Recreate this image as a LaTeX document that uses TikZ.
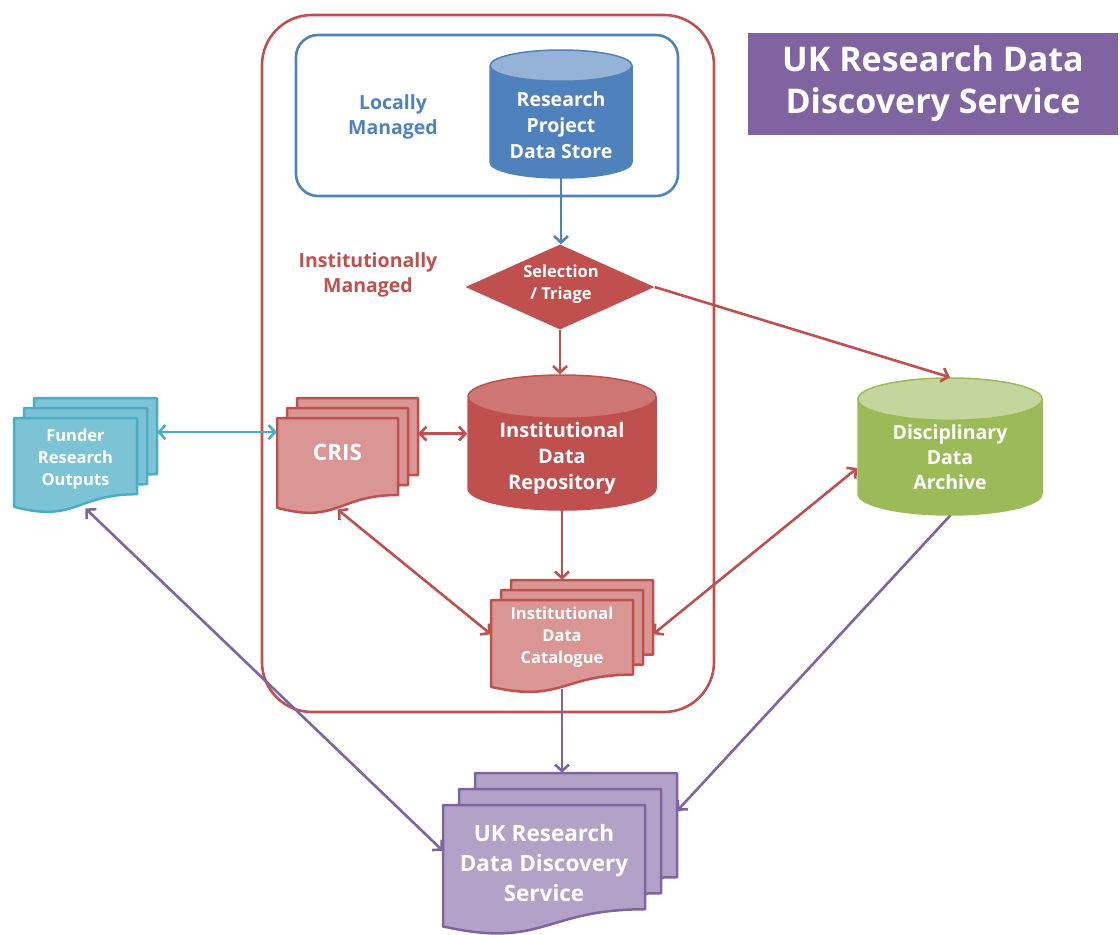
\documentclass[tikz,border=0pt]{standalone}
\usepackage{fontspec}
\setmainfont{Open Sans}
\usetikzlibrary{shapes.geometric,arrows.meta,calc}
\definecolor{ofred}{HTML}{C0504D}
\definecolor{ofblue}{HTML}{4F81BD}
\definecolor{ofgreen}{HTML}{9BBB59}
\definecolor{ofpurple}{HTML}{8064A2}
\definecolor{ofcyan}{HTML}{4BACC6}
\tikzset{
	sheet/.style={line width=2.5pt, line join=round},
	cyl/.style={cylinder, shape border rotate=90, draw, line width=1.5pt, cylinder uses custom fill, inner ysep=0pt, anchor=shape center},
	whitetext/.style={text=white, font=\bfseries, align=center, inner sep=0pt},
	link/.style={line width=2.6pt, -{Straight Barb[length=6.5pt,width=14pt]}},
	twolink/.style={line width=2.6pt, {Straight Barb[length=6.5pt,width=14pt]}-{Straight Barb[length=6.5pt,width=14pt]}},
	area/.style={draw, line width=2.6pt, fill=none, inner sep=0pt},
}
\newcommand{\docstack}[9]{
	\foreach \k in {2,1,0} {
		\draw[sheet, #7] ($(#2,#3)+(#6*\k,-#6*\k)$) -- ++(#4,0) -- ++(0,0.802*#5)
		.. controls +(-0.5*#4,0) and +(0.5*#4,0.174*#5) .. ++(-#4,0.132*#5) -- cycle;
	};
	\node[minimum width=#4+2*#6, minimum height=0.95*#5+2*#6, inner sep=0pt] (#1) at (#2+0.5*#4+#6, #3+0.475*#5-#6) {};
	\node[whitetext, #8] (#1-text) at (#2+0.5*#4, #3+0.4*#5) {#9};
}

\begin{document}
\begin{tikzpicture}[x=1pt,y=-1pt]
	\useasboundingbox (0,0) rectangle (1120,935);
	
	\node[fill=ofpurple, minimum width=370, minimum height=102, text=white, font=\bfseries\fontsize{34}{42}\selectfont, align=center] (title) at (933,84) {UK Research Data\\Discovery Service};
	
	\node[area, draw=ofred, rounded corners=50, minimum width=452, minimum height=697] (institution) at (488,363.5) {};
	\node[area, draw=ofblue, rounded corners=22, minimum width=382, minimum height=161] (local) at (487,115.5) {};
	\node[text=ofblue, font=\bfseries\fontsize{19.5}{25}\selectfont, align=center] (local-text) at (393,117) {Locally\\Managed};
	\node[text=ofred, font=\bfseries\fontsize{19.5}{25}\selectfont, align=center] (institution-text) at (368,275) {Institutionally\\Managed};
	
	\node[cyl, draw=ofblue, cylinder body fill=ofblue, cylinder end fill=ofblue!60!white, inner xsep=71, minimum height=128, aspect=0.22] (store) at (561,114) {};
	\node[whitetext, font=\bfseries\fontsize{19.5}{26}\selectfont] (store-text) at (561,125) {Research\\Project\\Data Store};
	\node[diamond, fill=ofred, aspect=2.2, minimum width=189, minimum height=85, inner sep=0pt] (triage) at (560,287) {};
	\node[whitetext, font=\bfseries\fontsize{16.5}{22}\selectfont] (triage-text) at (561,284) {Selection\\/ Triage};
	\node[cyl, draw=ofred, cylinder body fill=ofred, cylinder end fill=ofred!78!white, inner xsep=94, minimum height=135, aspect=0.23] (repo) at (562,442.5) {};
	\node[whitetext, font=\bfseries\fontsize{20}{26}\selectfont] (repo-text) at (562,458) {Institutional\\Data\\Repository};
	\node[cyl, draw=ofgreen, cylinder body fill=ofgreen, cylinder end fill=ofgreen!60!white, inner xsep=92, minimum height=137, aspect=0.23] (archive) at (950,446.5) {};
	\node[whitetext, font=\bfseries\fontsize{19.5}{25}\selectfont] (archive-text) at (950,457) {Disciplinary\\Data\\Archive};
	
	\docstack{funder}{14}{418}{123}{95}{10}{draw=ofcyan, fill=ofcyan!72!white}{font=\bfseries\fontsize{16.5}{22}\selectfont, yshift=-3}{Funder\\Research\\Outputs}
	\docstack{cris}{277}{418}{121}{96}{10}{draw=ofred, fill=ofred!60!white}{font=\bfseries\fontsize{22.5}{26}\selectfont, yshift=4}{CRIS}
	\docstack{cat}{491}{600}{142}{93}{10}{draw=ofred, fill=ofred!60!white}{font=\bfseries\fontsize{16.5}{22}\selectfont}{Institutional\\Data\\Catalogue}
	\docstack{uk}{443}{805}{202}{130}{16}{draw=ofpurple, fill=ofpurple!60!white}{font=\bfseries\fontsize{22.5}{30}\selectfont, yshift=-6}{UK Research\\Data Discovery\\Service}
	
	\draw[link, ofblue] (store.south) -- (store.south |- triage.north);
	\draw[link, ofred] (triage.east) -- (archive.north);
	\draw[link, ofred] (triage.south) -- (triage.south |- repo.north);
	\draw[twolink, ofcyan] ([yshift=21]funder.east) -- ([yshift=21]funder.east -| cris.west);
	\draw[twolink, ofred] ([yshift=20]cris.east) -- ([yshift=20]cris.east -| repo.west);
	\draw[link, ofred] (repo.south) -- (repo.south |- cat.north);
	\draw[twolink, ofred] ([xshift=-10]cris.south) -- (cat.west);
	\draw[twolink, ofred] (cat.east) -- (archive.west);
	\draw[link, ofpurple] ([xshift=-10]cat.south) -- ([xshift=-10]cat.south |- uk.north);
	\draw[link, ofpurple] (archive.south) -- ([yshift=40]uk.east);
	\draw[twolink, ofpurple] (funder.south) -- (uk.west);
\end{tikzpicture}
\end{document}
